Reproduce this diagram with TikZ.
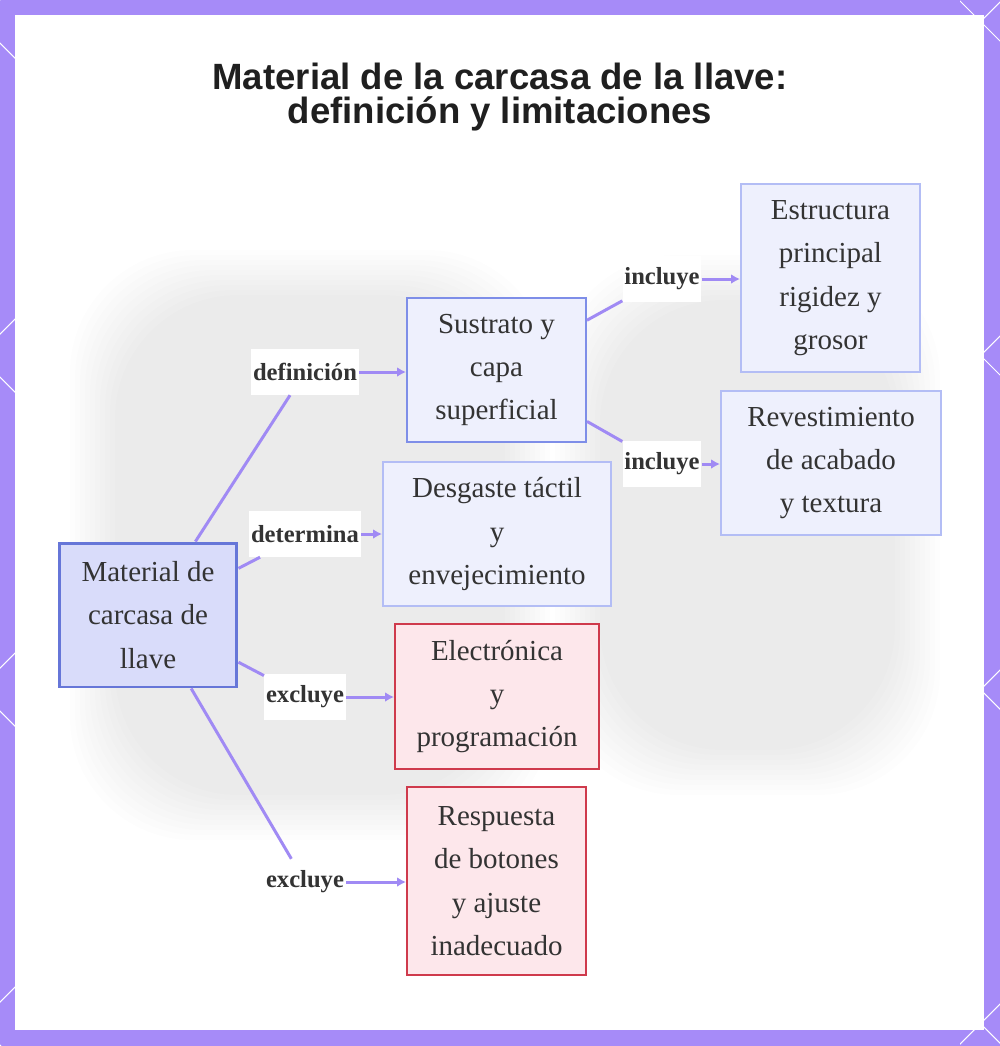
\documentclass[tikz,border=0pt]{standalone}
\usepackage{fontspec}
\setmainfont{Liberation Serif}
\newfontfamily\titlefont{Liberation Sans}
\usetikzlibrary{arrows.meta}

\definecolor{frame}{HTML}{A68BF8}
\definecolor{edgecol}{HTML}{A08AF4}
\definecolor{rootfill}{HTML}{D9DCFA}
\definecolor{rootline}{HTML}{6676D8}
\definecolor{midline}{HTML}{7E8EE8}
\definecolor{leaffill}{HTML}{EEF0FD}
\definecolor{leafline}{HTML}{B3BDF5}
\definecolor{badfill}{HTML}{FDE7EB}
\definecolor{badline}{HTML}{CF3A4C}
\definecolor{txt}{HTML}{333333}

\tikzset{
  box/.style={draw, line width=1.2pt, align=center, text=txt, inner sep=0pt,
    font=\fontsize{16.5}{24.7}\selectfont},
  rootbox/.style={box, fill=rootfill, draw=rootline, line width=1.7pt},
  midbox/.style={box, fill=leaffill, draw=midline},
  leafbox/.style={box, fill=leaffill, draw=leafline},
  badbox/.style={box, fill=badfill, draw=badline},
  tag/.style={fill=white, text=txt, inner xsep=1pt, minimum height=26pt,
    font=\fontsize{14}{16}\selectfont\bfseries},
  link/.style={draw=edgecol, line width=1.7pt},
  arr/.style={link, -{Latex[length=5pt,width=5.5pt]}}
}

\begin{document}
\begin{tikzpicture}[x=0.02cm,y=-0.02cm]
  \useasboundingbox (0,0) rectangle (1000,1046);
  %% Frame with diagonal marks on the sides
  \fill[frame] (0,0) rectangle (1000,1046);
  \begin{scope}
    \clip (0,0) rectangle (15,1046) (960,0) rectangle (1000,1046);
    \foreach \k in {0,...,6} {
      \draw[white, line width=0.6pt] (334*\k,0) -- (334*\k-1046,1046);
    }
    \foreach \k in {-3,...,3} {
      \draw[white, line width=0.6pt] (334*\k-43,0) -- (334*\k-43+1046,1046);
    }
  \end{scope}
  \fill[white] (15,15) rectangle (984,1030);
  %% Faded background shapes
  \foreach \i in {0,...,9} {
    \fill[black, opacity=0.006, rounded corners=70] (70+5*\i,250+5*\i) rectangle (550-5*\i,840-5*\i);
    \fill[black, opacity=0.006, rounded corners=70] (555+5*\i,255+5*\i) rectangle (940-5*\i,795-5*\i);
  }

  %% Title
  \node[align=center, text=black!88, font=\titlefont\bfseries\fontsize{20.8}{19.5}\selectfont]
    (title) at (500,97) {Material de la carcasa de la llave:\\definición y limitaciones};

  %% Boxes
  \node[rootbox, minimum width=3.56cm, minimum height=2.88cm] (root) at (148,615)
    {Material de\\carcasa de\\llave};
  \node[midbox, minimum width=3.58cm, minimum height=2.88cm] (sust) at (496.5,370)
    {Sustrato y\\capa\\superficial};
  \node[leafbox, minimum width=3.58cm, minimum height=3.76cm] (estr) at (830.5,278)
    {Estructura\\principal\\rigidez y\\grosor};
  \node[leafbox, minimum width=4.4cm, minimum height=2.88cm] (reve) at (831,463)
    {Revestimiento\\de acabado\\y textura};
  \node[leafbox, minimum width=4.56cm, minimum height=2.88cm] (desg) at (497,534)
    {Desgaste táctil\\y\\envejecimiento};
  \node[badbox, minimum width=4.08cm, minimum height=2.9cm] (elec) at (497,696.5)
    {Electrónica\\y\\programación};
  \node[badbox, minimum width=3.58cm, minimum height=3.76cm] (resp) at (496.5,881)
    {Respuesta\\de botones\\y ajuste\\inadecuado};

  %% Labels
  \node[tag] (ldef) at (305,372) {definición};
  \node[tag] (ldet) at (305,534) {determina};
  \node[tag] (lex1) at (305,697) {excluye};
  \node[tag] (lex2) at (305,882) {excluye};
  \node[tag] (linc1) at (662,279) {incluye};
  \node[tag] (linc2) at (662,464) {incluye};

  %% Connectors
  \path[link] (root) -- (ldef);
  \path[link] (root) -- (ldet);
  \path[link] (root) -- (lex1);
  \path[link] (root) -- (lex2);
  \path[link] (sust) -- (linc1);
  \path[link] (sust) -- (linc2);
  \draw[arr] (ldef.east) -- (ldef.east -| sust.west);
  \draw[arr] (ldet.east) -- (ldet.east -| desg.west);
  \draw[arr] (lex1.east) -- (lex1.east -| elec.west);
  \draw[arr] (lex2.east) -- (lex2.east -| resp.west);
  \draw[arr] (linc1.east) -- (linc1.east -| estr.west);
  \draw[arr] (linc2.east) -- (linc2.east -| reve.west);
\end{tikzpicture}
\end{document}
